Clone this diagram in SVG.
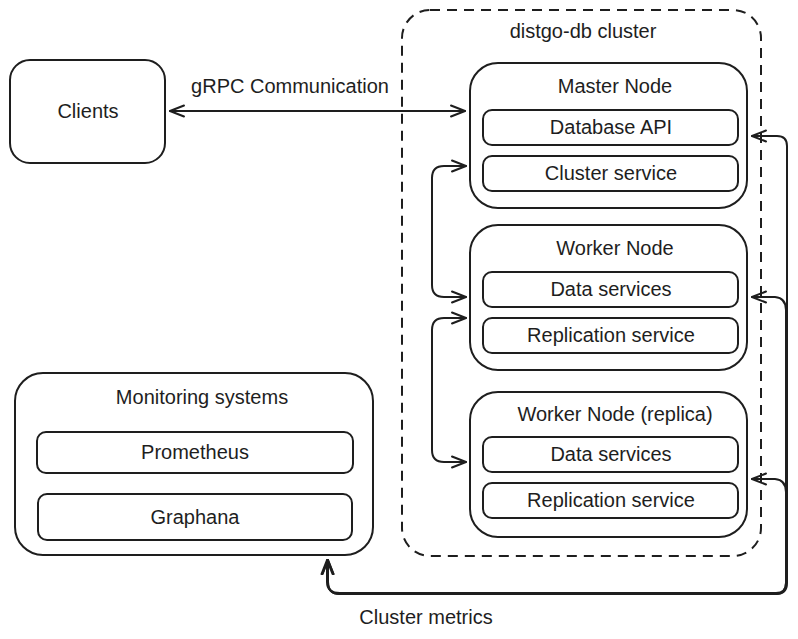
<svg xmlns="http://www.w3.org/2000/svg" width="798" height="639" viewBox="0 0 798 639">
<defs>
<style>
.box{fill:#ffffff;stroke:#1e1e1e;stroke-width:2}
.inner{fill:none;stroke:#1e1e1e;stroke-width:2}
.cluster{fill:none;stroke:#1e1e1e;stroke-width:2;stroke-dasharray:10 7}
.conn{fill:none;stroke:#1e1e1e;stroke-width:2;stroke-linecap:round;stroke-linejoin:round}
text{font-family:"Liberation Sans",Arial,sans-serif;font-size:20px;fill:#1e1e1e;text-anchor:middle;dominant-baseline:central}
</style>
<marker id="arr" viewBox="0 0 18 14" refX="16" refY="7" markerWidth="18" markerHeight="14" markerUnits="userSpaceOnUse" orient="auto-start-reverse">
<path d="M2,1.5 L16,7 L2,12.5" fill="none" stroke="#1e1e1e" stroke-width="2" stroke-linecap="round" stroke-linejoin="round"/>
</marker>
</defs>
<rect width="798" height="639" fill="#ffffff"/>

<g id="cluster">
<rect class="cluster" x="402" y="10" width="359" height="546" rx="28"/>
<text x="583" y="31">distgo-db cluster</text>
</g>

<g id="clients">
<rect class="box" x="10" y="60" width="155" height="103" rx="20"/>
<text x="88" y="111">Clients</text>
</g>

<g id="master">
<rect class="box" x="470" y="63" width="277" height="145" rx="28"/>
<text x="615" y="86">Master Node</text>
<rect class="inner" x="483" y="110" width="255" height="35" rx="9"/>
<text x="611" y="127">Database API</text>
<rect class="inner" x="483" y="156" width="255" height="35" rx="9"/>
<text x="611" y="173">Cluster service</text>
</g>

<g id="worker">
<rect class="box" x="470" y="225" width="277" height="145" rx="28"/>
<text x="615" y="248">Worker Node</text>
<rect class="inner" x="483" y="272" width="255" height="35" rx="9"/>
<text x="611" y="289">Data services</text>
<rect class="inner" x="483" y="318" width="255" height="35" rx="9"/>
<text x="611" y="335">Replication service</text>
</g>

<g id="replica">
<rect class="box" x="470" y="392" width="277" height="145" rx="28"/>
<text x="615" y="414">Worker Node (replica)</text>
<rect class="inner" x="483" y="437" width="255" height="35" rx="9"/>
<text x="611" y="454">Data services</text>
<rect class="inner" x="483" y="483" width="255" height="35" rx="9"/>
<text x="611" y="500">Replication service</text>
</g>

<g id="monitoring">
<rect class="box" x="15" y="373" width="358" height="182" rx="28"/>
<text x="202" y="397">Monitoring systems</text>
<rect class="inner" x="37" y="432" width="316" height="41" rx="9"/>
<text x="195" y="452">Prometheus</text>
<rect class="inner" x="38" y="494" width="314" height="46" rx="9"/>
<text x="195" y="517">Graphana</text>
</g>

<g id="connectors">
<path class="conn" d="M170,111 L465,111" marker-start="url(#arr)" marker-end="url(#arr)"/>
<text x="290" y="86">gRPC Communication</text>
<path class="conn" d="M466,166 L444,166 Q432,166 432,178 L432,285 Q432,297 444,297 L466,297" marker-start="url(#arr)" marker-end="url(#arr)"/>
<path class="conn" d="M466,318 L444,318 Q432,318 432,330 L432,450 Q432,462 444,462 L466,462" marker-start="url(#arr)" marker-end="url(#arr)"/>
<path class="conn" d="M752,136 L777,136 Q787,136 787,146 L787,583 Q787,594 776,594 L340,594 Q328,594 328,582 L328,560" marker-start="url(#arr)" marker-end="url(#arr)"/>
<path class="conn" d="M752,297 L775,297 Q786,298 786,310 L786,583 Q786,593 776,593 L340,593 Q327,593 327,582 L327,560" marker-start="url(#arr)" marker-end="url(#arr)"/>
<path class="conn" d="M752,479 L775,479 Q786,480 786,492 L786,583 Q786,594 776,594 L340,594 Q328,594 328,582 L328,560" marker-start="url(#arr)" marker-end="url(#arr)"/>
<text x="426" y="617">Cluster metrics</text>
</g>
</svg>
